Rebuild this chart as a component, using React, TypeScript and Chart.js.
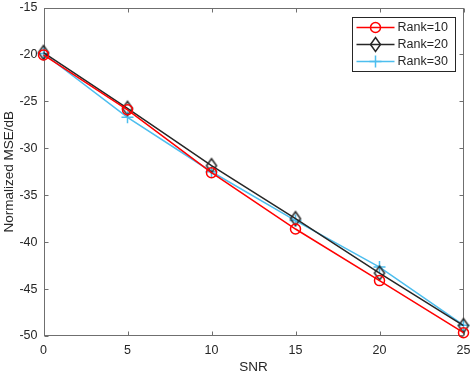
import React, { useEffect, useRef } from "react";
import { Chart, registerables } from "chart.js";

Chart.register(...registerables);

const snr = [0, 5, 10, 15, 20, 25];
const rank10 = [-20.05, -25.9, -32.6, -38.6, -44.1, -49.65];
const rank20 = [-19.8, -25.75, -31.85, -37.5, -43.3, -48.9];
const rank30 = [-19.9, -26.7, -32.5, -37.7, -42.65, -48.85];
const seriesNames = ["Rank=10", "Rank=20", "Rank=30"];
const xTitle = "SNR";
const yTitle = "Normalized MSE/dB";

const RED = "#ff0000";
const BLACK = "#262626";
const CYAN = "#4dbeee";
const AXIS = "#6f6f6f";
const TEXT = "#262626";
const FONT = "'Liberation Sans', Arial, Helvetica, sans-serif";

function drawMarker(ctx: CanvasRenderingContext2D, kind: string, x: number, y: number, color: string) {
  ctx.save();
  ctx.strokeStyle = color;
  ctx.lineWidth = 1.5;
  ctx.beginPath();
  if (kind === "circle") {
    ctx.arc(x, y, 5, 0, Math.PI * 2);
  } else if (kind === "diamond") {
    ctx.moveTo(x, y - 7);
    ctx.lineTo(x + 5, y);
    ctx.lineTo(x, y + 7);
    ctx.lineTo(x - 5, y);
    ctx.closePath();
  } else {
    ctx.moveTo(x - 6, y);
    ctx.lineTo(x + 6, y);
    ctx.moveTo(x, y - 6);
    ctx.lineTo(x, y + 6);
  }
  ctx.stroke();
  ctx.restore();
}

function diamondImage(color: string) {
  const c = document.createElement("canvas");
  c.width = 14;
  c.height = 18;
  const ctx = c.getContext("2d")!;
  drawMarker(ctx, "diamond", 7, 9, color);
  return c;
}

const boxPlugin = {
  id: "matlabBox",
  beforeDatasetsDraw(chart: any) {
    const { ctx, chartArea, scales } = chart;
    const l = Math.round(chartArea.left) + 0.5;
    const r = Math.round(chartArea.right) - 0.5;
    const t = Math.round(chartArea.top) + 0.5;
    const b = Math.round(chartArea.bottom) - 0.5;
    ctx.save();
    ctx.strokeStyle = AXIS;
    ctx.lineWidth = 1;
    ctx.strokeRect(l, t, r - l, b - t);
    const tl = 4;
    ctx.beginPath();
    scales.x.ticks.forEach((tk: any) => {
      const px = Math.round(scales.x.getPixelForValue(tk.value)) + 0.5;
      ctx.moveTo(px, b);
      ctx.lineTo(px, b - tl);
      ctx.moveTo(px, t);
      ctx.lineTo(px, t + tl);
    });
    scales.y.ticks.forEach((tk: any) => {
      const py = Math.round(scales.y.getPixelForValue(tk.value)) + 0.5;
      ctx.moveTo(l, py);
      ctx.lineTo(l + tl, py);
      ctx.moveTo(r, py);
      ctx.lineTo(r - tl, py);
    });
    ctx.stroke();
    ctx.restore();
  },
  afterDraw(chart: any) {
    const { ctx, chartArea } = chart;
    const bx = Math.round(chartArea.right - 9) + 0.5;
    const bw = 103;
    const left = bx - bw;
    const top = Math.round(chartArea.top + 9) + 0.5;
    const bh = 54;
    ctx.save();
    ctx.fillStyle = "#ffffff";
    ctx.fillRect(left, top, bw, bh);
    ctx.strokeStyle = BLACK;
    ctx.lineWidth = 1;
    ctx.strokeRect(left, top, bw, bh);
    const colors = [RED, BLACK, CYAN];
    const kinds = ["circle", "diamond", "cross"];
    const rowY = [top + 10, top + 27, top + 44];
    ctx.font = `12.5px ${FONT}`;
    ctx.textBaseline = "middle";
    ctx.textAlign = "left";
    for (let i = 0; i < 3; i++) {
      const y = rowY[i];
      ctx.strokeStyle = colors[i];
      ctx.lineWidth = 1.5;
      ctx.beginPath();
      ctx.moveTo(left + 4, y);
      ctx.lineTo(left + 42, y);
      ctx.stroke();
      drawMarker(ctx, kinds[i], left + 23, y, colors[i]);
      ctx.fillStyle = TEXT;
      ctx.fillText(seriesNames[i], left + 45, y + 0.5);
    }
    ctx.restore();
  },
};

export default function App() {
  const ref = useRef<HTMLCanvasElement | null>(null);
  useEffect(() => {
    if (!ref.current) return;
    const mk = (vals: number[]) => snr.map((x, i) => ({ x, y: vals[i] }));
    const chart = new Chart(ref.current, {
      type: "line",
      data: {
        datasets: [
          {
            label: seriesNames[0],
            data: mk(rank10),
            borderColor: RED,
            backgroundColor: "rgba(0,0,0,0)",
            borderWidth: 1.5,
            pointStyle: "circle",
            pointRadius: 5,
            pointBorderWidth: 1.5,
            pointBorderColor: RED,
            pointBackgroundColor: "rgba(0,0,0,0)",
            clip: false as any,
          },
          {
            label: seriesNames[1],
            data: mk(rank20),
            borderColor: BLACK,
            backgroundColor: "rgba(0,0,0,0)",
            borderWidth: 1.5,
            pointStyle: diamondImage(BLACK) as any,
            pointRadius: 6,
            pointBorderWidth: 1.5,
            pointBorderColor: BLACK,
            pointBackgroundColor: "rgba(0,0,0,0)",
            clip: false as any,
          },
          {
            label: seriesNames[2],
            data: mk(rank30),
            borderColor: CYAN,
            backgroundColor: "rgba(0,0,0,0)",
            borderWidth: 1.5,
            pointStyle: "cross",
            pointRadius: 6,
            pointBorderWidth: 1.5,
            pointBorderColor: CYAN,
            pointBackgroundColor: "rgba(0,0,0,0)",
            clip: false as any,
          },
        ],
      },
      options: {
        animation: false,
        responsive: false,
        maintainAspectRatio: false,
        layout: { padding: { top: 3, right: 8.5, left: 0, bottom: 0 } },
        plugins: { legend: { display: false }, tooltip: { enabled: false } },
        scales: {
          x: {
            type: "linear",
            min: 0,
            max: 25,
            ticks: { stepSize: 5, color: TEXT, font: { family: FONT, size: 12.5 }, padding: 7, maxRotation: 0 },
            grid: { display: false, drawTicks: false },
            border: { display: false },
            title: { display: true, text: xTitle, color: TEXT, font: { family: FONT, size: 13.5, lineHeight: 1 }, padding: { top: 0, bottom: 0 } },
            afterFit: (s: any) => {
              s.height = 38;
              s.paddingLeft = 0;
              s.paddingRight = 0;
            },
          },
          y: {
            type: "linear",
            min: -50,
            max: -15,
            ticks: { stepSize: 5, color: TEXT, font: { family: FONT, size: 12.5 }, padding: 6 },
            grid: { display: false, drawTicks: false },
            border: { display: false },
            title: { display: true, text: yTitle, color: TEXT, font: { family: FONT, size: 13.5, lineHeight: 1.2 }, padding: { top: 1, bottom: 0 } },
            afterFit: (s: any) => {
              s.width = 43.5;
              s.paddingTop = 0;
              s.paddingBottom = 0;
            },
          },
        },
      },
      plugins: [boxPlugin],
    });
    return () => chart.destroy();
  }, []);
  return (
    <div style={{ position: "fixed", left: 0, top: 0, width: 472, height: 374, background: "#fff" }}>
      <canvas ref={ref} width={472} height={374} style={{ width: 472, height: 374, display: "block" }} />
    </div>
  );
}
